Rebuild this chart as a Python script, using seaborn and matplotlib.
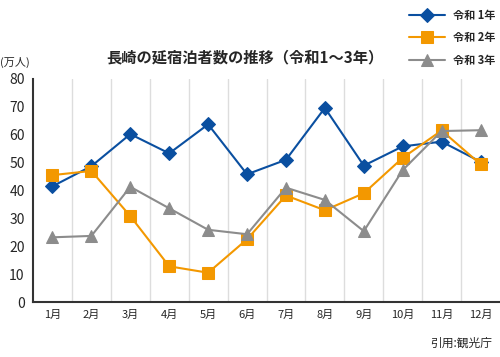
#!/usr/bin/env python3
"""
Nagasaki overnight stays, Reiwa 1-3 (line chart)
"""

import matplotlib
matplotlib.use('Agg')
import matplotlib.pyplot as plt
import numpy as np
import pandas as pd
import seaborn as sns

months = ['1月', '2月', '3月', '4月', '5月', '6月', '7月', '8月', '9月', '10月', '11月', '12月']
series_names = ['令和 1年', '令和 2年', '令和 3年']
r1 = [41.5, 48.7, 60.2, 53.3, 63.7, 45.8, 51.0, 69.6, 48.9, 55.8, 57.5, 50.3]
r2 = [45.5, 47.0, 30.8, 12.8, 10.5, 22.5, 38.2, 32.9, 39.0, 51.7, 61.5, 49.4]
r3 = [23.2, 23.7, 41.3, 33.6, 25.9, 24.3, 41.0, 36.6, 25.4, 47.3, 61.3, 61.6]
y_ticks = [0, 10, 20, 30, 40, 50, 60, 70, 80]

sns.set_style("white")
plt.rcParams['font.family'] = ['Noto Sans CJK JP', 'DejaVu Sans']

df = pd.DataFrame({
    'month': months * 3,
    'x': list(range(len(months))) * 3,
    'value': r1 + r2 + r3,
    'series': np.repeat(series_names, len(months)),
})

colors = {'令和 1年': '#0a4fa0', '令和 2年': '#f39800', '令和 3年': '#8c8c8c'}
markers = {'令和 1年': 'D', '令和 2年': 's', '令和 3年': '^'}
msize = {'令和 1年': 7, '令和 2年': 9, '令和 3年': 9}

fig = plt.figure(figsize=(5, 3.57), dpi=100)
ax = fig.add_axes([0.066, 0.154, 0.934, 0.625])

for name in series_names:
    sub = df[df['series'] == name]
    sns.lineplot(data=sub, x='x', y='value', ax=ax, color=colors[name],
                 marker=markers[name], markersize=msize[name],
                 markeredgecolor=colors[name], linewidth=1.5, label=name)

ax.set_xlim(-0.5, len(months) - 0.5)
ax.set_ylim(0, 80)
ax.set_yticks(y_ticks)
ax.set_yticklabels([str(v) for v in y_ticks], fontsize=10)
ax.set_xticks(range(len(months)))
ax.set_xticklabels(months, fontsize=8)
ax.tick_params(axis='both', length=0, pad=6)
ax.set_xlabel('')
ax.set_ylabel('')

# vertical separators between months
for b in np.arange(0.5, len(months) - 0.5, 1):
    ax.axvline(b, color='#dddddd', linewidth=1, zorder=0)

for side in ['top', 'right']:
    ax.spines[side].set_visible(False)
for side in ['left', 'bottom']:
    ax.spines[side].set_color('#333333')
    ax.spines[side].set_linewidth(1.5)

leg = ax.legend(loc='upper left', bbox_to_anchor=(0.818, 0.975),
                bbox_transform=fig.transFigure, frameon=False,
                fontsize=8, handlelength=3.2, labelspacing=0.85,
                borderaxespad=0, borderpad=0)
for t in leg.get_texts():
    t.set_fontweight('bold')

fig.text(0.49, 0.84, '長崎の延宿泊者数の推移（令和1〜3年）', ha='center', va='center',
         fontsize=11, fontweight='bold')
fig.text(0.0, 0.826, '(万人)', ha='left', va='center', fontsize=8)
fig.text(0.985, 0.04, '引用:観光庁', ha='right', va='center', fontsize=8.5)

plt.savefig('out.png', dpi=100)
plt.close()
